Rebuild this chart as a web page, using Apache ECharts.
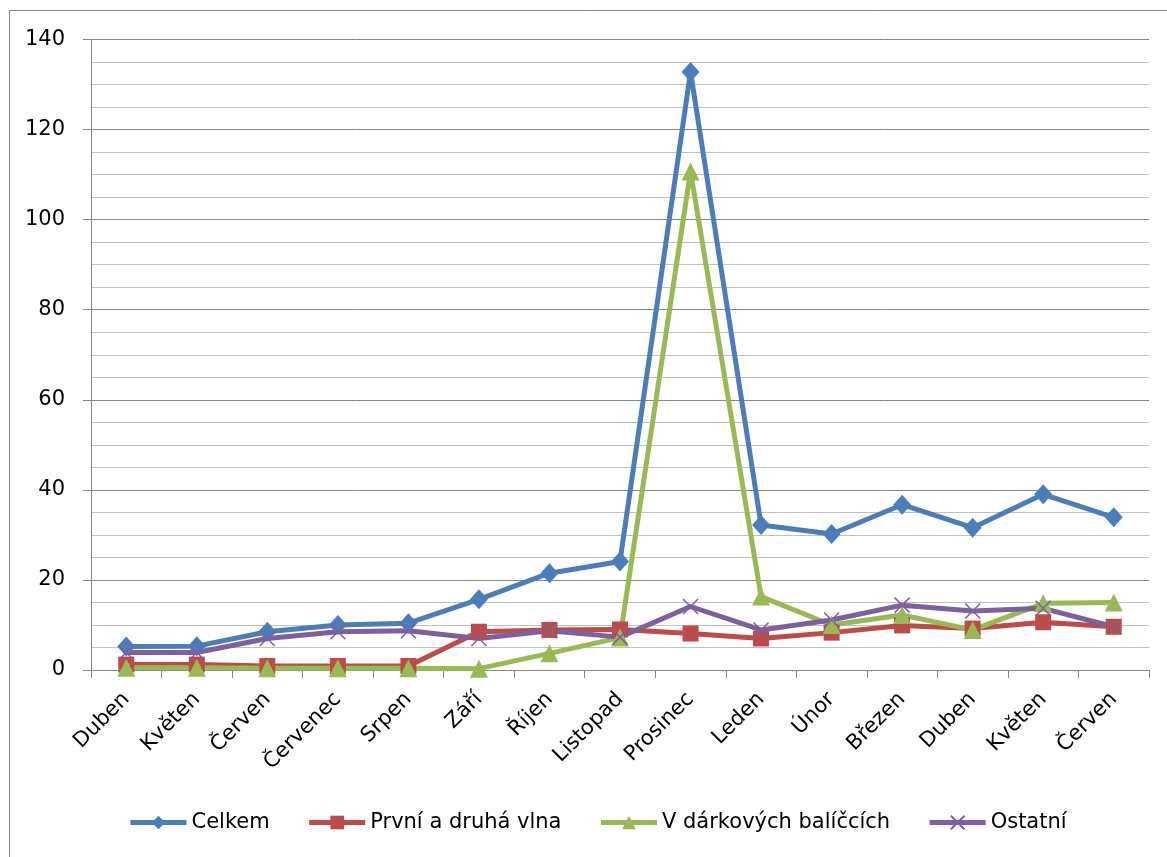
<!DOCTYPE html>
<html>
<head>
<meta charset="utf-8">
<script src="https://cdn.jsdelivr.net/npm/echarts@6/dist/echarts.min.js"></script>
<style>
  html, body { margin: 0; padding: 0; background: #fff; }
  #chart { width: 1167px; height: 857px; }
</style>
</head>
<body>
<div id="chart"></div>
<script>
// data
var months = ['Duben', 'Květen', 'Červen', 'Červenec', 'Srpen', 'Září', 'Říjen', 'Listopad',
              'Prosinec', 'Leden', 'Únor', 'Březen', 'Duben', 'Květen', 'Červen'];
var celkem  = [5.2, 5.3, 8.5, 10.0, 10.4, 15.7, 21.5, 24.1, 132.8, 32.2, 30.2, 36.7, 31.6, 39.0, 33.9];
var vlna    = [1.2, 1.2, 0.9, 0.9, 0.9, 8.5, 8.9, 9.0, 8.1, 7.0, 8.3, 9.9, 9.2, 10.6, 9.6];
var balicky = [0.5, 0.5, 0.4, 0.4, 0.4, 0.3, 3.7, 7.2, 110.7, 16.3, 10.0, 12.2, 8.9, 14.8, 15.0];
var ostatni = [3.9, 3.9, 7.0, 8.5, 8.7, 7.0, 8.7, 7.3, 14.1, 8.9, 11.1, 14.4, 13.1, 13.7, 9.6];
var yTicks = { min: 0, max: 140, step: 20 };

var FONT = 'DejaVu Sans';
var crossPath = 'path://M0,0L10,10M10,0L0,10';

function lineSeries(name, data, color, symbol, size, extra) {
    var s = {
        name: name,
        type: 'line',
        data: data,
        symbol: symbol,
        symbolSize: size,
        showAllSymbol: true,
        lineStyle: { color: color, width: 5 },
        itemStyle: { color: color },
        emphasis: { disabled: true }
    };
    if (extra) Object.assign(s.itemStyle, extra);
    return s;
}

var chart = echarts.init(document.getElementById('chart'));
chart.setOption({
    animation: false,
    backgroundColor: '#fff',
    textStyle: { fontFamily: FONT },
    graphic: [{
        type: 'rect',
        shape: { x: 9.5, y: 10.5, width: 1200, height: 900 },
        style: { fill: 'none', stroke: '#868686', lineWidth: 1 },
        silent: true, z: -1
    }],
    grid: { left: 91, right: 18, top: 39.5, bottom: 187, containLabel: false },
    legend: {
        left: 123, top: 807,
        itemWidth: 56, itemHeight: 17, itemGap: 37,
        lineStyle: { width: 5 },
        textStyle: { fontFamily: FONT, fontSize: 21, color: '#000' },
        data: ['Celkem', 'První a druhá vlna', 'V dárkových balíčcích', 'Ostatní']
    },
    xAxis: {
        type: 'category',
        data: months,
        boundaryGap: true,
        axisLine: { lineStyle: { color: '#868686', width: 1 } },
        axisTick: { show: true, length: 8, lineStyle: { color: '#868686' } },
        axisLabel: { rotate: 45, margin: 26, fontSize: 21, color: '#000', fontFamily: FONT, interval: 0 },
        splitLine: { show: false }
    },
    yAxis: {
        type: 'value',
        min: yTicks.min, max: yTicks.max, interval: yTicks.step,
        axisLine: { show: true, lineStyle: { color: '#868686', width: 1 } },
        axisTick: { show: true, length: 8, lineStyle: { color: '#868686' } },
        axisLabel: { fontSize: 21, color: '#000', fontFamily: FONT, margin: 26 },
        splitLine: { show: true, lineStyle: { color: '#868686', width: 1 } },
        minorTick: { show: false, splitNumber: 4 },
        minorSplitLine: { show: true, lineStyle: { color: '#c0c0c0', width: 1 } }
    },
    series: [
        lineSeries('Celkem', celkem, '#4a7ebb', 'diamond', [18, 20]),
        lineSeries('První a druhá vlna', vlna, '#be4b48', 'rect', 16),
        lineSeries('V dárkových balíčcích', balicky, '#98b954', 'triangle', 18),
        lineSeries('Ostatní', ostatni, '#7d60a0', crossPath, 15,
                   { borderColor: '#7d60a0', borderWidth: 1.5 })
    ]
});

window.addEventListener('resize', function () { chart.resize(); });
</script>
</body>
</html>
